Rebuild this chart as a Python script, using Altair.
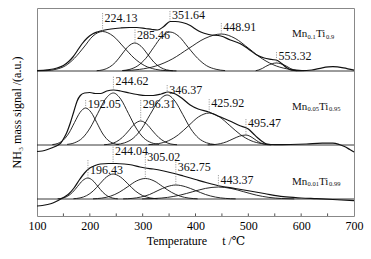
import altair as alt
import pandas as pd

FONT = "'Liberation Serif', 'Times New Roman', 'DejaVu Serif', serif"

# vertical offsets of the three stacked traces (plot units)
TOP_OFF, MID_OFF, BOT_OFF = 145, 71, 17

# ---------------- Mn0.1Ti0.9 (top) : (temperature, signal) ----------------
TOP_ENV = [(100, 0.5), (120, 1.2), (138, 3), (150, 5.5), (160, 9.5), (168, 14), (176, 20),
           (185, 27), (195, 33), (205, 37), (214, 39), (224, 40.5), (240, 42), (258, 43),
           (275, 43.5), (289, 43.5), (305, 42.5), (318, 41.5), (328, 41), (340, 44.5),
           (352, 49.5), (362, 49.5), (375, 48.5), (390, 45.5), (400, 42), (410, 39),
           (425, 36.5), (448, 35), (466, 31), (484, 27.5), (500, 22), (516, 16), (530, 13),
           (545, 11.5), (555, 10.5), (563, 7.5), (572, 3.5), (582, 0.8), (600, 0.3),
           (620, 1), (640, 3.2), (660, 4.3), (680, 3.2), (700, 0.8)]
TOP_P224 = [(100, 0.2), (119, 0.4), (136, 1.7), (154, 5.3), (171, 12.8), (189, 24), (206, 35),
            (224, 39.5), (244, 35), (264, 24), (284, 12.8), (304, 5.3), (324, 1.7), (344, 0.4),
            (364, 0.1)]
TOP_P285 = [(213, 0.3), (225, 1.2), (237, 3.8), (249, 9), (261, 17), (273, 24.7), (285, 28),
            (297, 24.7), (309, 17), (321, 9), (333, 3.8), (345, 1.2), (357, 0.3)]
TOP_P351 = [(261, 0.4), (276, 1.7), (291, 5.3), (306, 12.7), (321, 23.7), (336, 34.4),
            (351.6, 39), (369, 34.4), (386, 23.7), (404, 12.7), (421, 5.3), (439, 1.7),
            (456, 0.4)]
TOP_P448 = [(263, 0.4), (294, 1.6), (325, 5), (356, 12), (387, 22.5), (418, 32.6), (449, 37),
            (475, 32.6), (501, 22.5), (527, 12), (553, 5), (579, 1.6), (605, 0.4)]
TOP_P553 = [(514, 0.3), (520, 1.1), (527, 2.7), (533, 4.6), (540, 6.4), (546, 7.5), (553, 8),
            (560, 7.5), (566, 6.4), (573, 4.6), (579, 2.7), (586, 1.1), (592, 0.3)]

# ---------------- Mn0.05Ti0.95 (middle) ----------------
MID_ENV = [(100, -6.5), (110, -6), (120, -4.5), (130, -2.5), (140, 0), (145, 2), (150, 6),
           (156, 12), (163, 22), (170, 34), (176, 44), (182, 49.5), (190, 52), (200, 52.5),
           (210, 51.5), (220, 51.5), (232, 54), (245, 55), (258, 54), (275, 52), (290, 50.5),
           (305, 49.5), (320, 49.5), (335, 51), (348, 53), (362, 51), (375, 46.5), (390, 40),
           (405, 36), (425, 33), (445, 28.5), (465, 24), (483, 19.5), (500, 16), (510, 11),
           (517, 7.5), (525, 4), (535, 1), (550, 0.3), (580, 0.5), (610, 1), (640, 1.8),
           (660, 1.8), (672, 0.5), (682, -1.5), (692, -4.5), (700, -7)]
MID_P192 = [(129, 0.4), (139.5, 1.6), (150, 5), (160.5, 12), (171, 22.5), (181.5, 32.6),
            (192, 37), (202.5, 32.6), (213, 22.5), (223.5, 12), (234, 5), (244.5, 1.6),
            (255, 0.4)]
MID_P244 = [(157, 0.6), (171.5, 2.3), (186, 7), (200.5, 17), (215, 31.6), (229.5, 45.9),
            (244.6, 52), (258.5, 45.9), (273, 31.6), (287.5, 17), (302, 7), (316.5, 2.3),
            (331, 0.6)]
MID_P296 = [(227, 0.3), (238.5, 1), (250, 3.2), (261.5, 7.5), (273, 14), (284.5, 21),
            (296.3, 24), (307.5, 21), (319, 14), (330.5, 7.5), (342, 3.2), (353.5, 1),
            (365, 0.3)]
MID_P346 = [(250, 0.55), (266, 2.2), (282, 6.75), (298, 16.2), (314, 30.4), (330, 44),
            (346.4, 50), (361, 44), (376, 30.4), (391, 16.2), (406, 6.75), (421, 2.2),
            (436, 0.55)]
MID_P425 = [(311, 0.35), (330, 1.4), (349, 4.3), (368, 10.4), (387, 19.4), (406, 28.2),
            (425.9, 32), (445, 28.2), (465, 19.4), (485, 10.4), (505, 4.3), (525, 1.4),
            (545, 0.35)]
MID_P495 = [(423, 0.1), (435, 0.4), (447, 1.35), (459, 3.25), (471, 6.1), (483, 8.8),
            (495.5, 10), (503, 8.8), (511, 6.1), (519, 3.25), (527, 1.35), (535, 0.4),
            (543, 0.1)]

# ---------------- Mn0.01Ti0.99 (bottom) ----------------
BOT_ENV = [(100, -7), (110, -6.5), (120, -5.5), (130, -4), (140, -1.5), (150, 1.5), (160, 5),
           (170, 11), (180, 19), (190, 26), (200, 31), (210, 33.5), (220, 35), (235, 35.5),
           (250, 35.5), (265, 35), (280, 34), (295, 32), (305, 31), (320, 30), (340, 28),
           (360, 25.5), (377, 23), (400, 19.5), (420, 16.5), (446, 13), (475, 10.5),
           (503, 8), (530, 5.5), (566, 2.3), (600, 1), (629, 0.3), (660, -0.5), (700, -1.7)]
BOT_P196 = [(139, 0.2), (148.5, 0.9), (158, 2.8), (167.5, 6.8), (177, 12.7), (186.5, 18.5),
            (196.4, 21), (205.5, 18.5), (215, 12.7), (224.5, 6.8), (234, 2.8), (243.5, 0.9),
            (253, 0.2)]
BOT_P244 = [(169, 0.3), (181.5, 1.1), (194, 3.4), (206.5, 8.1), (219, 15.2), (231.5, 22),
            (244, 25), (258, 22), (272, 15.2), (286, 8.1), (300, 3.4), (314, 1.1), (328, 0.3)]
BOT_P305 = [(206, 0.2), (222.5, 0.9), (239, 2.8), (255.5, 6.7), (272, 12.4), (288.5, 18.1),
            (305, 20.5), (321.5, 18.1), (338, 12.4), (354.5, 6.7), (371, 2.8), (387.5, 0.9),
            (404, 0.2)]
BOT_P362 = [(263, 0.15), (280, 0.6), (296, 1.9), (313, 4.5), (329, 8.5), (346, 12.3),
            (362.8, 14), (381, 12.3), (400, 8.5), (419, 4.5), (438, 1.9), (457, 0.6),
            (476, 0.15)]
BOT_P443 = [(299, 0.13), (323, 0.5), (347, 1.6), (371, 3.9), (395, 7.3), (419, 10.6),
            (443.4, 12), (467, 10.6), (491, 7.3), (515, 3.9), (539, 1.6), (563, 0.5),
            (587, 0.13)]

# ---------------- peak labels ----------------
LABELS = ["224.13", "285.46", "351.64", "448.91", "553.32",
          "192.05", "244.62", "296.31", "346.37", "425.92", "495.47",
          "196.43", "244.04", "305.02", "362.75", "443.37"]
LABEL_Y = [198, 181, 201, 189, 160,
           111.7, 135, 111.7, 126.5, 112.7, 92.7,
           46, 65, 59.3, 49.3, 36]
LEADER_TOP = [203, 186.5, 205, 193, 164,
              116, 139.3, 116, 131, 117, 97,
              56, 69.3, 64, 54.3, 41]
LEADER_END = [184.5, 173, 195, 182, 153,
              108, 126, 95, 123, 104, 81,
              38, 53.5, 37.5, 31, 29]

SAMPLES_MAIN = ["Mn", "Mn", "Mn"]
SAMPLES_SUB1 = ["0.1", "0.05", "0.01"]
SAMPLES_SUB2 = ["0.9", "0.95", "0.99"]
SAMPLE_T = [582.7, 582.7, 582.7]
SAMPLE_Y = [182, 109.3, 34.3]

X_TICKS = [100, 200, 300, 400, 500, 600, 700]
MINOR_TICKS = [150, 200, 250, 300, 350, 400, 450, 500, 550, 600, 650]


def curve_df(points, off, name):
    return pd.DataFrame({"T": [p[0] for p in points],
                         "y": [p[1] + off for p in points],
                         "curve": name})


env_df = pd.concat([curve_df(TOP_ENV, TOP_OFF, "top"),
                    curve_df(MID_ENV, MID_OFF, "mid"),
                    curve_df(BOT_ENV, BOT_OFF, "bot")])
peak_df = pd.concat([
    curve_df(TOP_P224, TOP_OFF, "t1"), curve_df(TOP_P285, TOP_OFF, "t2"),
    curve_df(TOP_P351, TOP_OFF, "t3"), curve_df(TOP_P448, TOP_OFF, "t4"),
    curve_df(TOP_P553, TOP_OFF, "t5"),
    curve_df(MID_P192, MID_OFF, "m1"), curve_df(MID_P244, MID_OFF, "m2"),
    curve_df(MID_P296, MID_OFF, "m3"), curve_df(MID_P346, MID_OFF, "m4"),
    curve_df(MID_P425, MID_OFF, "m5"), curve_df(MID_P495, MID_OFF, "m6"),
    curve_df(BOT_P196, BOT_OFF, "b1"), curve_df(BOT_P244, BOT_OFF, "b2"),
    curve_df(BOT_P305, BOT_OFF, "b3"), curve_df(BOT_P362, BOT_OFF, "b4"),
    curve_df(BOT_P443, BOT_OFF, "b5"),
])

base_df = pd.DataFrame({"x0": [100] * 3, "x1": [700] * 3, "y": [TOP_OFF, MID_OFF, BOT_OFF]})
lab_df = pd.DataFrame({"T": [float(s) for s in LABELS], "y": LABEL_Y, "text": LABELS,
                       "y1": LEADER_TOP, "y2": LEADER_END})
samp_df = pd.DataFrame({"T": SAMPLE_T, "y": SAMPLE_Y, "main": SAMPLES_MAIN,
                        "s1": SAMPLES_SUB1, "s2": SAMPLES_SUB2, "row": [0, 1, 2]})
tick_df = pd.DataFrame({"T": MINOR_TICKS})

XS = alt.Scale(domain=[100, 700], nice=False, zero=False)
YS = alt.Scale(domain=[0, 208], nice=False, zero=False)
XAX = alt.Axis(values=X_TICKS, format="d", labelFont=FONT, labelFontSize=12,
               labelColor="black", ticks=False, tickSize=0, domain=False, grid=False,
               labelPadding=4, labelFlush=False, labelOverlap=False,
               title="Temperature\u00a0\u00a0\u00a0\u00a0\u00a0t /\u2103", titleFont=FONT,
               titleFontSize=12, titleFontWeight="normal", titleColor="black",
               titlePadding=4)
YAX = alt.Axis(labels=False, ticks=False, domain=False, grid=False,
               title="NH\u2083 mass signal /(a.u.)", titleFont=FONT, titleFontSize=12,
               titleFontWeight="normal", titleColor="black", titlePadding=14)


def X(f):
    return alt.X(f, type="quantitative", scale=XS, axis=XAX)


def Y(f):
    return alt.Y(f, type="quantitative", scale=YS, axis=YAX)


baselines = alt.Chart(base_df).mark_rule(color="#222", strokeWidth=0.9).encode(
    x=X("x0"), x2="x1", y=Y("y"))
ticks = alt.Chart(tick_df).mark_rule(color="#555", strokeWidth=1).encode(
    x=X("T"), y=alt.datum(0), y2=alt.datum(2.6))
peaks = alt.Chart(peak_df).mark_line(color="#111", strokeWidth=0.9,
                                     interpolate="monotone").encode(
    x=X("T"), y=Y("y"), detail="curve:N")
envs = alt.Chart(env_df).mark_line(color="#111", strokeWidth=1.2,
                                   interpolate="monotone").encode(
    x=X("T"), y=Y("y"), detail="curve:N")
leaders = alt.Chart(lab_df).mark_rule(color="#888", strokeWidth=0.8,
                                      strokeDash=[1.2, 1.2]).encode(
    x=X("T"), y=Y("y1"), y2="y2")
labels = alt.Chart(lab_df).mark_text(align="left", baseline="middle", dx=2, font=FONT,
                                     fontSize=12, color="#111").encode(
    x=X("T"), y=Y("y"), text="text:N")

samp = alt.Chart(samp_df)
mn = samp.mark_text(align="left", baseline="middle", font=FONT, fontSize=11,
                    color="#111").encode(x=X("T"), y=Y("y"), text="main:N")
sub1 = samp.mark_text(align="left", baseline="middle", font=FONT, fontSize=6.5, dx=15.5,
                      dy=2.5, color="#111").encode(x=X("T"), y=Y("y"), text="s1:N")
ti_a = samp.transform_filter("datum.row == 0").mark_text(
    align="left", baseline="middle", font=FONT, fontSize=11, dx=24, color="#111").encode(
    x=X("T"), y=Y("y"), text=alt.value("Ti"))
sub2_a = samp.transform_filter("datum.row == 0").mark_text(
    align="left", baseline="middle", font=FONT, fontSize=6.5, dx=34, dy=2.5,
    color="#111").encode(x=X("T"), y=Y("y"), text="s2:N")
ti_b = samp.transform_filter("datum.row > 0").mark_text(
    align="left", baseline="middle", font=FONT, fontSize=11, dx=27, color="#111").encode(
    x=X("T"), y=Y("y"), text=alt.value("Ti"))
sub2_b = samp.transform_filter("datum.row > 0").mark_text(
    align="left", baseline="middle", font=FONT, fontSize=6.5, dx=37, dy=2.5,
    color="#111").encode(x=X("T"), y=Y("y"), text="s2:N")

chart = alt.layer(baselines, ticks, peaks, envs, leaders, labels,
                  mn, sub1, ti_a, sub2_a, ti_b, sub2_b).properties(
    width=317, height=208,
    padding={"left": 37, "top": 8, "right": 17, "bottom": 43},
    autosize=alt.AutoSizeParams(type="none"),
    background="white",
).configure_view(stroke="#888", strokeWidth=1)

chart.save("out.html", embed_options={"renderer": "svg", "actions": False})
